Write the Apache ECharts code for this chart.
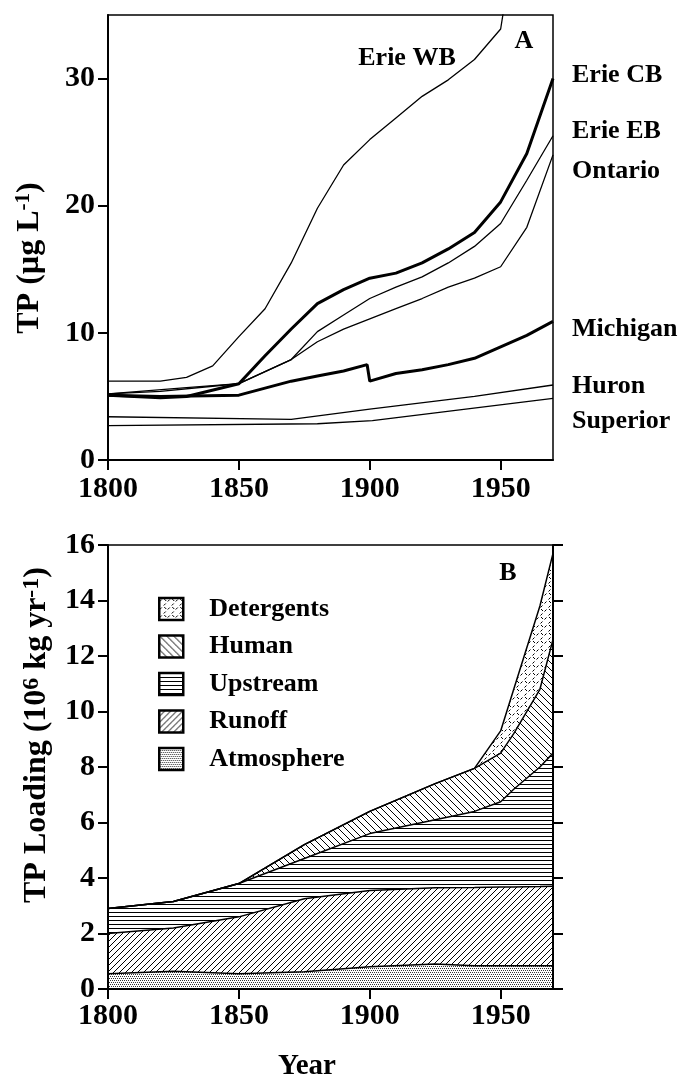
<!DOCTYPE html>
<html>
<head>
<meta charset="utf-8">
<script src="https://cdn.jsdelivr.net/npm/echarts@6/dist/echarts.min.js"></script>
<style>
html,body{margin:0;padding:0;background:#fff;}
#main{width:682px;height:1082px;}
</style>
</head>
<body>
<div id="main"></div>
<script>
// ---- panel A : lake TP (ug/L) ----
var erieWbYears = [1800, 1820, 1830, 1840, 1850, 1860, 1870, 1880, 1890, 1900, 1910, 1920, 1930, 1940, 1950, 1951];
var erieWbTP    = [6.2, 6.2, 6.5, 7.4, 9.7, 11.9, 15.5, 19.8, 23.2, 25.2, 26.9, 28.6, 29.9, 31.5, 33.9, 35.2];

var erieCbYears = [1800, 1820, 1830, 1850, 1860, 1870, 1880, 1890, 1900, 1910, 1920, 1930, 1940, 1950, 1960, 1970];
var erieCbTP    = [5.1, 4.9, 5.0, 6.0, 8.2, 10.3, 12.3, 13.4, 14.3, 14.7, 15.5, 16.6, 17.9, 20.3, 24.1, 30.0];

var erieEbYears = [1800, 1830, 1850, 1870, 1880, 1890, 1900, 1910, 1920, 1930, 1940, 1950, 1960, 1970];
var erieEbTP    = [5.2, 5.7, 6.0, 7.9, 10.1, 11.4, 12.7, 13.6, 14.4, 15.5, 16.8, 18.6, 22.0, 25.5];

var ontarioYears = [1800, 1820, 1840, 1850, 1870, 1880, 1890, 1900, 1910, 1920, 1930, 1940, 1950, 1960, 1970];
var ontarioTP    = [5.2, 5.4, 5.8, 6.0, 7.9, 9.3, 10.3, 11.1, 11.9, 12.7, 13.6, 14.3, 15.2, 18.3, 24.0];

var michiganYears = [1800, 1820, 1850, 1870, 1880, 1890, 1899, 1900, 1910, 1920, 1930, 1940, 1950, 1960, 1970];
var michiganTP    = [5.1, 5.0, 5.1, 6.2, 6.6, 7.0, 7.5, 6.2, 6.8, 7.1, 7.5, 8.0, 8.9, 9.8, 10.9];

var huronYears = [1800, 1870, 1900, 1940, 1970];
var huronTP    = [3.4, 3.2, 4.0, 5.0, 5.9];

var superiorYears = [1800, 1880, 1901, 1970];
var superiorTP    = [2.7, 2.85, 3.1, 4.85];

var yearTicks = [1800, 1850, 1900, 1950];
var tpTicks = [0, 10, 20, 30];

// ---- panel B : TP loading (10^6 kg/yr), components bottom -> top ----
var loadYears  = [1800, 1825, 1850, 1875, 1900, 1925, 1940, 1950, 1955, 1965, 1970];
var atmosphere = [0.55, 0.64, 0.55, 0.62, 0.80, 0.90, 0.84, 0.84, 0.84, 0.84, 0.84];
var runoff     = [1.45, 1.56, 2.05, 2.63, 2.75, 2.75, 2.82, 2.84, 2.84, 2.85, 2.86];
var upstream   = [0.90, 0.95, 1.20, 1.45, 2.05, 2.45, 2.74, 3.07, 3.52, 4.31, 4.80];
var human      = [0, 0, 0, 0.50, 0.80, 1.30, 1.55, 1.75, 2.00, 2.80, 4.10];
var detergents = [0, 0, 0, 0, 0, 0, 0, 0.80, 1.60, 3.00, 3.10];

var legendOrder = ['Detergents', 'Human', 'Upstream', 'Runoff', 'Atmosphere'];

var FONT = '"Liberation Serif", "Times New Roman", serif';

function makePattern(kind){
	var c = document.createElement('canvas');
	var s = 6;
	if(kind=='dots') s = 4;
	if(kind=='hlines') s = 4;
	if(kind=='back') s = 7;
	if(kind=='speck') s = 8;
	c.width = s; c.height = s;
	var ctx = c.getContext('2d');
	ctx.fillStyle = '#fff';
	ctx.fillRect(0,0,s,s);
	ctx.strokeStyle = '#000';
	ctx.fillStyle = '#333';
	ctx.lineWidth = 1;
	if(kind=='dots'){
		// staggered stipple
		ctx.fillRect(0,0,1,1);
		ctx.fillRect(2,0,1,1);
		ctx.fillRect(1,2,1,1);
		ctx.fillRect(3,2,1,1);
	} else if(kind=='hlines'){
		ctx.fillStyle = '#000';
		ctx.fillRect(0,0,s,1);
	} else if(kind=='fwd'){
		ctx.beginPath();
		ctx.moveTo(0,s); ctx.lineTo(s,0);
		ctx.moveTo(-1,1); ctx.lineTo(1,-1);
		ctx.moveTo(s-1,s+1); ctx.lineTo(s+1,s-1);
		ctx.stroke();
	} else if(kind=='back'){
		ctx.beginPath();
		ctx.moveTo(0,0); ctx.lineTo(s,s);
		ctx.moveTo(s-1,-1); ctx.lineTo(s+1,1);
		ctx.moveTo(-1,s-1); ctx.lineTo(1,s+1);
		ctx.stroke();
	} else if(kind=='speck'){
		ctx.beginPath();
		ctx.moveTo(0.5,3.5); ctx.lineTo(2.5,1.5);
		ctx.moveTo(4.5,7.5); ctx.lineTo(6.5,5.5);
		ctx.moveTo(5,1); ctx.lineTo(7,3);
		ctx.stroke();
	}
	return {image: c, repeat: 'repeat'};
}

function pairs(xs, ys){
	var out = [];
	for(var i=0;i<xs.length;i++){ out.push([xs[i], ys[i]]); }
	return out;
}

function lakeLine(name, xs, ys, w){
	return {
		name: name, type: 'line', xAxisIndex: 0, yAxisIndex: 0,
		data: pairs(xs, ys), symbol: 'none', silent: true, clip: true,
		lineStyle: {color: '#000', width: w}
	};
}

// running totals, so each band is drawn from 0 to its top and the
// next one down paints over it
var layers = [atmosphere, runoff, upstream, human, detergents];
var tops = [];
var run = loadYears.map(function(){ return 0; });
for (var k = 0; k < layers.length; k++) {
	run = run.map(function(v, i){ return Math.round((v + layers[k][i]) * 100) / 100; });
	tops.push(run);
}

function loadArea(name, top, pat){
	return {
		name: name, type: 'line', xAxisIndex: 1, yAxisIndex: 1,
		data: pairs(loadYears, top), symbol: 'none', silent: true,
		lineStyle: {color: '#000', width: 1.5},
		itemStyle: {color: pat},
		areaStyle: {color: pat, opacity: 1}
	};
}

function txt(t, x, y, size, align){
	return {type: 'text', x: x, y: y, silent: true, z: 10, style: {
		text: t, fill: '#000', fontSize: size || 26, fontWeight: 'bold', fontFamily: FONT,
		align: align || 'left', verticalAlign: 'middle'}};
}

function yearFmt(v){ return String(v); }

var dom = document.getElementById('main');
var myChart = echarts.init(dom);

option = {
	animation: false,
	backgroundColor: '#fff',
	grid: [
		{left: 108, top: 15, width: 445, height: 445, show: true, borderColor: '#000', borderWidth: 1.5},
		{left: 108, top: 545, width: 445, height: 444, show: true, borderColor: '#000', borderWidth: 1.5}
	],
	xAxis: [
		{gridIndex: 0, type: 'value', min: 1800, max: 1970, z: 5,
			axisLine: {lineStyle: {color: '#000', width: 2}},
			axisTick: {customValues: yearTicks, length: 10, lineStyle: {color: '#000', width: 2}},
			axisLabel: {customValues: yearTicks, formatter: yearFmt, margin: 14, fontSize: 30, fontWeight: 'bold', fontFamily: FONT, color: '#000'},
			splitLine: {show: false}},
		{gridIndex: 1, type: 'value', min: 1800, max: 1970, z: 5,
			axisLine: {lineStyle: {color: '#000', width: 2}},
			axisTick: {customValues: yearTicks, length: 10, lineStyle: {color: '#000', width: 2}},
			axisLabel: {customValues: yearTicks, formatter: yearFmt, margin: 12, fontSize: 30, fontWeight: 'bold', fontFamily: FONT, color: '#000'},
			splitLine: {show: false}}
	],
	yAxis: [
		{gridIndex: 0, type: 'value', min: 0, max: 35, z: 5,
			axisLine: {show: true, lineStyle: {color: '#000', width: 2}},
			axisTick: {show: true, customValues: tpTicks, length: 10, lineStyle: {color: '#000', width: 2}},
			axisLabel: {customValues: tpTicks, margin: 13, fontSize: 30, fontWeight: 'bold', fontFamily: FONT, color: '#000'},
			splitLine: {show: false}},
		{gridIndex: 1, type: 'value', min: 0, max: 16, interval: 2, z: 5,
			axisLine: {show: true, lineStyle: {color: '#000', width: 2}},
			axisTick: {show: true, length: 10, lineStyle: {color: '#000', width: 2}},
			axisLabel: {margin: 13, fontSize: 30, fontWeight: 'bold', fontFamily: FONT, color: '#000'},
			splitLine: {show: false}},
		{gridIndex: 1, type: 'value', min: 0, max: 16, interval: 2, position: 'right', z: 5,
			axisLine: {show: true, lineStyle: {color: '#000', width: 2}},
			axisTick: {show: true, length: 10, lineStyle: {color: '#000', width: 2}},
			axisLabel: {show: false},
			splitLine: {show: false}}
	],
	legend: {
		orient: 'vertical', left: 158, top: 596, padding: 0,
		data: legendOrder, icon: 'rect',
		itemWidth: 24, itemHeight: 22, itemGap: 11.5,
		selectedMode: false,
		itemStyle: {borderColor: '#000', borderWidth: 2.5},
		textStyle: {fontSize: 26, fontWeight: 'bold', fontFamily: FONT, color: '#000', padding: [0, 0, 0, 21], lineHeight: 22}
	},
	series: [
		lakeLine('Erie WB', erieWbYears, erieWbTP, 1.3),
		lakeLine('Erie CB', erieCbYears, erieCbTP, 3),
		lakeLine('Erie EB', erieEbYears, erieEbTP, 1.3),
		lakeLine('Ontario', ontarioYears, ontarioTP, 1.3),
		lakeLine('Michigan', michiganYears, michiganTP, 3),
		lakeLine('Huron', huronYears, huronTP, 1.3),
		lakeLine('Superior', superiorYears, superiorTP, 1.3),
		loadArea('Detergents', tops[4], makePattern('speck')),
		loadArea('Human', tops[3], makePattern('back')),
		loadArea('Upstream', tops[2], makePattern('hlines')),
		loadArea('Runoff', tops[1], makePattern('fwd')),
		loadArea('Atmosphere', tops[0], makePattern('dots'))
	],
	graphic: [
		txt('Erie WB', 407, 58, 26, 'center'),
		txt('A', 524, 41, 26, 'center'),
		txt('B', 508, 573, 26, 'center'),
		txt('Erie CB', 572, 75),
		txt('Erie EB', 572, 131),
		txt('Ontario', 572, 171),
		txt('Michigan', 572, 329),
		txt('Huron', 572, 386),
		txt('Superior', 572, 421),
		txt('Year', 307, 1067, 29, 'center'),
		{type: 'text', x: 30, y: 258, rotation: Math.PI / 2, silent: true, style: {
			text: '{m|TP (µg L}{s|-1}{m|)}', align: 'center', verticalAlign: 'middle',
			rich: {
				m: {fontSize: 32, fontWeight: 'bold', fontFamily: FONT, color: '#000', lineHeight: 34, verticalAlign: 'middle'},
				s: {fontSize: 21, fontWeight: 'bold', fontFamily: FONT, color: '#000', lineHeight: 21, verticalAlign: 'top'}
			}}},
		{type: 'text', x: 37, y: 735, rotation: Math.PI / 2, silent: true, style: {
			text: '{m|TP Loading (10}{s|6}{m| kg yr}{s|-1}{m|)}', align: 'center', verticalAlign: 'middle',
			rich: {
				m: {fontSize: 32, fontWeight: 'bold', fontFamily: FONT, color: '#000', lineHeight: 34, verticalAlign: 'middle'},
				s: {fontSize: 24, fontWeight: 'bold', fontFamily: FONT, color: '#000', lineHeight: 22, verticalAlign: 'top'}
			}}}
	]
};

if (option && typeof option === "object") {
	myChart.setOption(option);
}
</script>
</body>
</html>
